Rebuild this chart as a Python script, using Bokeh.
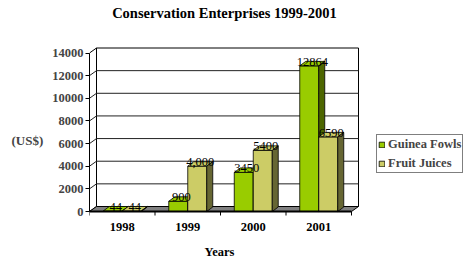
from bokeh.plotting import figure
from bokeh.models import Range1d, FixedTicker, Legend, LegendItem
from bokeh.embed import file_html
from bokeh.resources import INLINE
from bokeh.core.properties import value

# ---- data ----
years = ["1998", "1999", "2000", "2001"]
guinea_fowls = [44, 900, 3450, 12864]
fruit_juices = [44, 4000, 5400, 6590]
guinea_labels = ["44", "900", "3450", "12864"]
fruit_labels = ["44", "4,000", "5400", "6590"]
y_ticks = [0, 2000, 4000, 6000, 8000, 10000, 12000, 14000]
title_text = "Conservation Enterprises 1999-2001"

# ---- layout ----
FONT = "Liberation Serif"
W, H = 475, 261
BL = 89
ZERO_FROM_BOTTOM = 50      # pixels from figure bottom to the zero line
frame_w = W - BL
px_x = 65.5                # pixels per category
px_y = 158.5 / 14000.0     # pixels per unit
x_end = frame_w / px_x
y_start = -ZERO_FROM_BOTTOM / px_y
y_end = (H - ZERO_FROM_BOTTOM) / px_y
ymax = y_ticks[-1]
ncat = len(years)

wdx, wdy = 7 / px_x, 5 / px_y      # wall depth
bdx, bdy = 6 / px_x, 4.5 / px_y    # bar depth
bw = 19 / px_x

GREEN, GREEN_SIDE = "#99CC00", "#4D6600"
KHAKI, KHAKI_SIDE = "#CCCC66", "#666633"

p = figure(width=W, height=H, output_backend="svg", toolbar_location=None,
           x_range=Range1d(0, x_end), y_range=Range1d(y_start, y_end),
           x_axis_location=None,
           min_border_left=BL, min_border_right=0, min_border_top=0, min_border_bottom=0)
p.outline_line_color = None
p.xgrid.visible = False
p.ygrid.visible = False
p.background_fill_color = "white"
p.border_fill_color = "white"

# ---- walls / floor ----
p.patch([wdx, ncat + wdx, ncat + wdx, wdx], [wdy, wdy, ymax + wdy, ymax + wdy],
        fill_color="white", line_color="black", line_width=1)
p.patch([0, wdx, wdx, 0], [0, wdy, ymax + wdy, ymax],
        fill_color="white", line_color="black", line_width=1)
gx = [[0, wdx, ncat + wdx] for t in y_ticks[1:-1]]
gy = [[t, t + wdy, t + wdy] for t in y_ticks[1:-1]]
p.multi_line(gx, gy, line_color="#222222", line_width=1)
p.patch([0, ncat, ncat + wdx, wdx], [0, 0, wdy, wdy],
        fill_color="#808080", line_color="black", line_width=1)

# ---- bars ----
centers = [i + 0.5 for i in range(ncat)]


def bar3d(lefts, vals, front, side):
    rights = [l + bw for l in lefts]
    r = p.quad(left=lefts, right=rights, bottom=[0] * len(vals), top=vals,
               fill_color=front, line_color="black", line_width=0.8)
    p.patches([[l, rr, rr + bdx, l + bdx] for l, rr in zip(lefts, rights)],
              [[v, v, v + bdy, v + bdy] for v in vals],
              fill_color=front, line_color="black", line_width=0.8)
    p.patches([[rr, rr + bdx, rr + bdx, rr] for rr in rights],
              [[0, bdy, v + bdy, v] for v in vals],
              fill_color=side, line_color="black", line_width=0.8)
    return r


g_r = bar3d([c - bw for c in centers], guinea_fowls, GREEN, GREEN_SIDE)
k_r = bar3d(centers, fruit_juices, KHAKI, KHAKI_SIDE)

lbl_kw = dict(text_font=value(FONT), text_font_size="12.5px", text_color="black",
              text_align="center", text_baseline="middle", x_offset=3, y_offset=-4)
p.text(x=[c - bw / 2 for c in centers], y=guinea_fowls, text=guinea_labels, **lbl_kw)
p.text(x=[c + bw / 2 for c in centers], y=fruit_juices, text=fruit_labels, **lbl_kw)

# ---- category axis (front edge of the floor) ----
bounds_x = list(range(ncat + 1))
p.segment(x0=[0], y0=[0], x1=[ncat], y1=[0], line_color="black", line_width=1.8)
p.segment(x0=bounds_x, y0=[0] * len(bounds_x), x1=bounds_x, y1=[-4 / px_y] * len(bounds_x),
          line_color="black", line_width=1)
p.text(x=centers, y=[0] * ncat, text=years, text_font=value(FONT),
       text_font_size="12.5px", text_font_style="bold", text_color="black",
       text_align="center", text_baseline="middle", y_offset=15)
p.text(x=[ncat / 2], y=[0], text=["Years"], text_font=value(FONT),
       text_font_size="12.5px", text_font_style="bold", text_color="black",
       text_align="center", text_baseline="middle", x_offset=-1, y_offset=40)

# ---- title ----
p.text(x=[ncat / 2], y=[ymax], text=[title_text], text_font=value(FONT),
       text_font_size="14.5px", text_font_style="bold", text_color="black",
       text_align="center", text_baseline="middle", x_offset=4, y_offset=-40)

# ---- value axis ----
ya = p.yaxis[0]
ya.ticker = FixedTicker(ticks=y_ticks, minor_ticks=[])
ya.bounds = (0, ymax)
ya.major_tick_in = 0
ya.major_tick_out = 4
ya.minor_tick_in = 0
ya.minor_tick_out = 0
ya.major_label_standoff = 2
ya.major_label_text_font = FONT
ya.major_label_text_font_size = "12.5px"
ya.major_label_text_font_style = "bold"
ya.axis_label = "\n(US$)"
ya.axis_label_standoff = 6
ya.axis_label_text_font = FONT
ya.axis_label_text_font_size = "13px"
ya.axis_label_text_font_style = "bold"
ya.axis_label_text_line_height = 1.2
if "axis_label_orientation" in ya.properties():
    ya.axis_label_orientation = "horizontal"

legend = Legend(items=[LegendItem(label="Guinea Fowls", renderers=[g_r]),
                       LegendItem(label="Fruit Juices", renderers=[k_r])],
                location=(376 - BL, H - 173),
                border_line_color="black", border_line_width=1,
                background_fill_color="white", background_fill_alpha=1,
                padding=1, spacing=3, margin=0,
                glyph_width=7, glyph_height=7, label_standoff=3,
                label_height=16,
                label_text_font=FONT, label_text_font_size="12.5px",
                label_text_font_style="bold")
p.add_layout(legend)

open("out.html", "w").write(file_html(p, INLINE))
